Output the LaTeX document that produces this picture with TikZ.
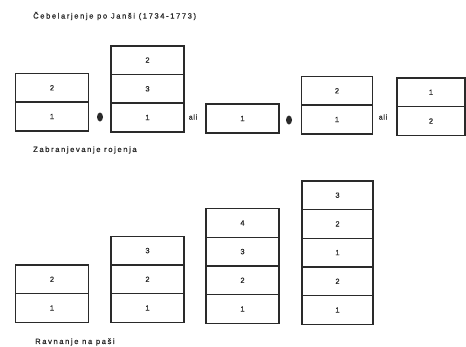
\documentclass[tikz,border=0pt]{standalone}
\usepackage{fontspec}
\setmainfont{Liberation Sans}
\newfontfamily\lblfont[LetterSpace=10,FakeBold=0.8]{Liberation Sans}
\newfontfamily\capfont[LetterSpace=21,FakeBold=0.8]{Liberation Sans}
\usetikzlibrary{shapes.geometric}
\definecolor{ink}{HTML}{2A2A2A}
\tikzset{
  cell/.style={draw=ink, line width=1.5pt, minimum height=28.7pt, inner sep=0pt,
    font=\lblfont\fontsize{7.5}{8}\selectfont, text=ink},
  w74/.style={minimum width=73pt},
  w71/.style={minimum width=71pt},
  w68/.style={minimum width=68pt},
  dot/.style={ellipse, fill=ink, minimum width=6pt, minimum height=9pt, inner sep=0pt},
  word/.style={font=\lblfont\fontsize{7}{8}\selectfont, text=ink, inner sep=0pt},
  caption/.style={font=\capfont\fontsize{7.6}{8}\selectfont, text=ink, inner sep=0pt, anchor=west}
}
\begin{document}
\begin{tikzpicture}[x=1pt,y=-1pt]
\useasboundingbox (0,0) rectangle (466,346);
\fill[white] (0,0) rectangle (466,346);
\node[caption] (title) at (33,16) {Čebelarjenje po Janši (1734-1773)};
% top row
\node[cell,w74] (a1) at (52,116.5) {1};
\node[cell,w74] (a2) at (52,87.8) {2};
\node[dot] (d1) at (100,117) {};
\node[cell,w74] (b1) at (147.5,117.5) {1};
\node[cell,w74] (b3) at (147.5,88.8) {3};
\node[cell,w74] (b2) at (147.5,60.1) {2};
\node[word] (ali1) at (193,117) {ali};
\node[cell,w74] (c1) at (242.5,118.5) {1};
\node[dot] (d2) at (289,120) {};
\node[cell,w71] (e1) at (337,119.5) {1};
\node[cell,w71] (e2) at (337,90.8) {2};
\node[word] (ali2) at (383,117) {ali};
\node[cell,w68] (f2) at (431,121) {2};
\node[cell,w68] (f1) at (431,92.3) {1};
\node[caption] (cap1) at (33,150) {Zabranjevanje rojenja};
% bottom row
\node[cell,w74] (g1) at (52,308) {1};
\node[cell,w74] (g2) at (52,279.3) {2};
\node[cell,w74] (h1) at (147.5,308) {1};
\node[cell,w74] (h2) at (147.5,279.3) {2};
\node[cell,w74] (h3) at (147.5,250.6) {3};
\node[cell,w74] (i1) at (242.5,309) {1};
\node[cell,w74] (i2) at (242.5,280.3) {2};
\node[cell,w74] (i3) at (242.5,251.6) {3};
\node[cell,w74] (i4) at (242.5,222.9) {4};
\node[cell,w71] (j1) at (337.5,310) {1};
\node[cell,w71] (j2) at (337.5,281.3) {2};
\node[cell,w71] (j3) at (337.5,252.6) {1};
\node[cell,w71] (j4) at (337.5,223.9) {2};
\node[cell,w71] (j5) at (337.5,195.2) {3};
\node[caption] (cap2) at (35,342) {Ravnanje na paši};
\end{tikzpicture}
\end{document}
